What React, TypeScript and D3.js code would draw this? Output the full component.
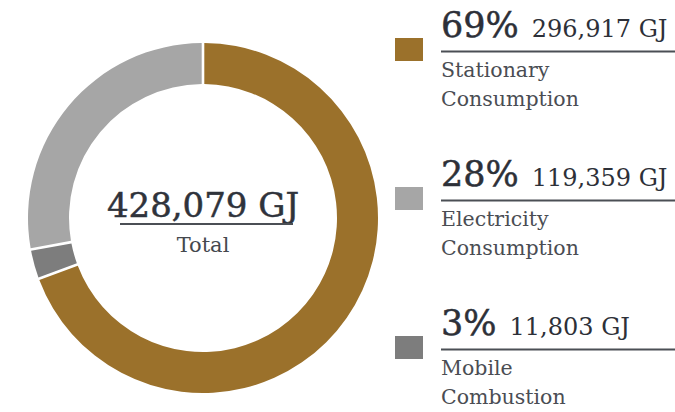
import React, { useEffect, useRef } from 'react';
import * as d3 from 'd3';

const categories = ['Stationary Consumption', 'Electricity Consumption', 'Mobile Combustion'];
const labelLines = [['Stationary', 'Consumption'], ['Electricity', 'Consumption'], ['Mobile', 'Combustion']];
const values = [296917, 119359, 11803];
const percents = ['69%', '28%', '3%'];
const colors = ['#9b712b', '#a6a6a6', '#7d7d7d'];
// clockwise order of the slices around the ring, starting at 12 o'clock
const ringOrder = [0, 2, 1];
const totalLabel = '428,079 GJ';

const EnergyDonut = () => {
  const svgRef = useRef<SVGSVGElement>(null);

  useEffect(() => {
    const width = 675;
    const height = 412;
    const cx = 203;
    const cy = 218;
    const outer = 175;
    const inner = 134;
    const font = '"DejaVu Serif", serif';

    const svg = d3.select(svgRef.current)
      .attr('width', width)
      .attr('height', height);
    svg.selectAll('*').remove();

    const ringData = ringOrder.map(i => ({ i, value: values[i] }));

    const pie = d3.pie<{ i: number; value: number }>()
      .sort(null)
      .value(d => d.value);

    const arc = d3.arc<d3.PieArcDatum<{ i: number; value: number }>>()
      .innerRadius(inner)
      .outerRadius(outer)
      .padAngle(0.015)
      .padRadius(outer);

    const ring = svg.append('g')
      .attr('transform', `translate(${cx},${cy})`);

    ring.selectAll('path')
      .data(pie(ringData))
      .join('path')
      .attr('fill', d => colors[d.data.i])
      .attr('d', arc);

    // centre total
    ring.append('text')
      .attr('x', 0)
      .attr('y', -1)
      .attr('text-anchor', 'middle')
      .attr('font-family', font)
      .attr('font-size', 34)
      .attr('fill', '#2f333b')
      .attr('stroke', '#2f333b')
      .attr('stroke-width', 0.5)
      .text(totalLabel);

    ring.append('line')
      .attr('x1', -83)
      .attr('x2', 90)
      .attr('y1', 6)
      .attr('y2', 6)
      .attr('stroke', '#4b4f55')
      .attr('stroke-width', 1.8);

    ring.append('text')
      .attr('x', 0)
      .attr('y', 33.5)
      .attr('text-anchor', 'middle')
      .attr('font-family', font)
      .attr('font-size', 21)
      .attr('fill', '#45484e')
      .text('Total');

    // legend
    const legendY = d3.scaleLinear()
      .domain([0, 1])
      .range([37, 186]);

    const legend = svg.append('g')
      .selectAll('g')
      .data(categories)
      .join('g')
      .attr('transform', (d, i) => `translate(0,${legendY(i)})`);

    legend.append('rect')
      .attr('x', 395)
      .attr('y', 1)
      .attr('width', 28)
      .attr('height', 23)
      .attr('fill', (d, i) => colors[i]);

    const head = legend.append('text')
      .attr('x', 441)
      .attr('y', 0)
      .attr('font-family', font)
      .attr('fill', '#2d3038');

    head.append('tspan')
      .attr('font-size', 35)
      .attr('stroke', '#2d3038')
      .attr('stroke-width', 0.5)
      .text((d, i) => percents[i]);

    head.append('tspan')
      .attr('dx', 13)
      .attr('font-size', 24)
      .text((d, i) => `${d3.format(',')(values[i])} GJ`);

    legend.append('line')
      .attr('x1', 441)
      .attr('x2', width)
      .attr('y1', 14.5)
      .attr('y2', 14.5)
      .attr('stroke', '#4b4f55')
      .attr('stroke-width', 1.8);

    legend.each(function (d, i) {
      d3.select(this).selectAll('text.lbl')
        .data(labelLines[i])
        .join('text')
        .attr('class', 'lbl')
        .attr('x', 441)
        .attr('y', (t, j) => 40 + j * 29)
        .attr('font-family', font)
        .attr('font-size', 20.5)
        .attr('fill', '#4a4d53')
        .text(t => t);
    });
  }, []);

  return (
    <div style={{ position: 'absolute', left: 0, top: 0 }}>
      <svg ref={svgRef} style={{ display: 'block' }}></svg>
    </div>
  );
};

export default function App() {
  return <EnergyDonut />;
}
